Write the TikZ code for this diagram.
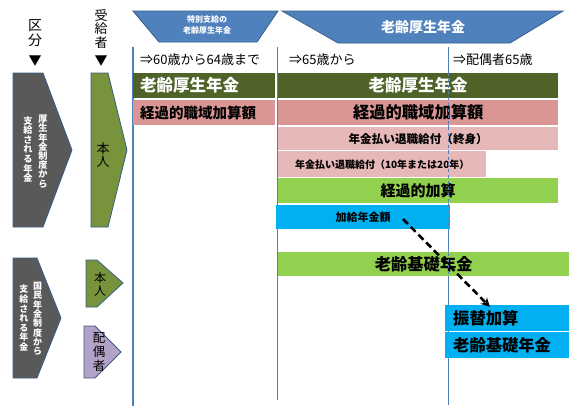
\documentclass[tikz,border=0pt]{standalone}
\usepackage{fontspec}
\setmainfont{Noto Sans CJK JP}
\usetikzlibrary{arrows.meta}
\definecolor{cOlive}{HTML}{4F6228}
\definecolor{cPink}{HTML}{D99694}
\definecolor{cLPink}{HTML}{E6B9B8}
\definecolor{cLGreen}{HTML}{92D050}
\definecolor{cCyan}{HTML}{00B0F0}
\definecolor{cBlue}{HTML}{4F81BD}
\definecolor{cBorder}{HTML}{385D8A}
\definecolor{cGray}{HTML}{595959}
\definecolor{cGreen}{HTML}{77933C}
\definecolor{cPurple}{HTML}{B3A2C7}
\newcommand{\fs}[2]{\fontsize{#1pt}{#2pt}\selectfont}
\begin{document}
\begin{tikzpicture}[x=1pt,y=-1pt,
  bar/.style={inner xsep=0pt, inner ysep=0pt, anchor=north west, font=\bfseries},
  lbar/.style={bar, inner xsep=7pt, align=left},
  banner/.style={fill=cBlue, draw=cBorder, line width=0.8pt},
  tab/.style={draw=cBorder, line width=0.8pt},
  vline/.style={draw=cBlue},
  hdr/.style={anchor=west, inner sep=0pt, font=\fs{13}{14}},
  vtext/.style={inner sep=0pt, align=center},
  darrow/.style={line width=2.6pt, dash pattern=on 7pt off 4pt, -{Stealth[length=9pt,width=9pt]}}
]
\useasboundingbox (0,0) rectangle (583,416);
\fill[white] (0,0) rectangle (583,416);

% banners
\path[banner] (133,11) -- (278,11) -- (257,42) -- (159,42) -- cycle;
\node[vtext, text=white, font=\bfseries\fs{8}{11}] (b1) at (207,25) {特別支給の\\老齢厚生年金};
\path[banner] (282,11) -- (563,11) -- (510,43) -- (338,43) -- cycle;
\node[vtext, text=white, font=\bfseries\fs{14}{16}] (b2) at (423,27) {老齢厚生年金};

% left headings
\node[vtext, font=\fs{14}{15}] (kubun) at (35,33) {区\\分};
\node[vtext, font=\fs{13}{13}] (kubunt) at (35,61) {▼};
\node[vtext, font=\fs{13}{13.5}] (jukyu) at (101,29) {受\\給\\者};
\node[vtext, font=\fs{13}{13}] (jukyut) at (101,61) {▼};

% vertical lines
\draw[vline, line width=1.8pt] (133,47) -- (133,406);
\draw[vline, line width=1pt] (277,47) -- (277,400);
\draw[vline, line width=1pt] (448,47) -- (448,405);

% column headers
\node[hdr] (h1) at (140,60) {⇒60歳から64歳まで};
\node[hdr] (h2) at (289,60) {⇒65歳から};
\node[hdr] (h3) at (453,60) {⇒配偶者65歳};

% bars
\node[lbar, fill=cOlive, text=white, text width=128pt, minimum height=25pt, font=\bfseries\fs{16.5}{18}] (r1a) at (133,73) {老齢厚生年金};
\node[bar, fill=cOlive, text=white, minimum width=280pt, minimum height=25pt, font=\bfseries\fs{16.5}{18}] (r1b) at (278,73) {老齢厚生年金};
\node[lbar, fill=cPink, text width=128pt, minimum height=25pt, font=\bfseries\fs{14.5}{16}] (r2a) at (133,100) {経過的職域加算額};
\node[bar, fill=cPink, minimum width=280pt, minimum height=25pt, font=\bfseries\fs{16.3}{18}] (r2b) at (278,100) {経過的職域加算額};
\node[bar, fill=cLPink, minimum width=280pt, minimum height=23pt, font=\bfseries\fs{11.6}{13}] (r3) at (278,127) {年金払い退職給付（終身）};
\node[bar, fill=cLPink, minimum width=208pt, minimum height=26pt, font=\bfseries\fs{10}{12}] (r4) at (278,151) {年金払い退職給付（10年または20年）};
\node[bar, fill=cLGreen, minimum width=280pt, minimum height=25pt, font=\bfseries\fs{15}{17}] (r5) at (278,178) {経過的加算};
\node[bar, fill=cCyan, minimum width=174pt, minimum height=24pt, font=\bfseries\fs{11}{13}] (r6) at (276,205) {加給年金額};
\node[bar, fill=cLGreen, minimum width=291pt, minimum height=24pt, font=\bfseries\fs{16.3}{18}] (r7) at (278,252) {老齢基礎年金};
\node[lbar, fill=cCyan, inner xsep=8pt, text width=108pt, minimum height=26pt, font=\bfseries\fs{16.3}{18}] (r8) at (445,305) {振替加算};
\node[lbar, fill=cCyan, inner xsep=8pt, text width=108pt, minimum height=26pt, font=\bfseries\fs{16.3}{18}] (r9) at (445,332) {老齢基礎年金};

% dashed overlay on line 3
\draw[vline, line width=1pt, dashed] (448,73) -- (448,276);

% arrow
\coordinate (as) at (403,219);
\coordinate (ae) at (490,307);
\draw[darrow] (as) -- (ae);

% left shapes
\path[fill=cGray, tab] (13,73) -- (43,73) -- (72,150) -- (43,227) -- (13,227) -- cycle;
\node[vtext, anchor=north, text=white, font=\bfseries\fs{9.2}{9.2}] (g1r) at (43,115) {厚\\生\\年\\金\\制\\度\\か\\ら};
\node[vtext, anchor=north, text=white, font=\bfseries\fs{9.2}{9.6}] (g1l) at (28,116) {支\\給\\さ\\れ\\る\\年\\金};
\path[fill=cGreen, tab] (91,73) -- (108,73) -- (127,150) -- (108,227) -- (91,227) -- cycle;
\node[vtext, font=\fs{13}{13}] (p1) at (103,155) {本\\人};

\path[fill=cGray, tab] (13,258) -- (37,258) -- (61,318) -- (37,378) -- (13,378) -- cycle;
\node[vtext, anchor=north, text=white, font=\bfseries\fs{9}{9.3}] (g2r) at (37.5,282) {国\\民\\年\\金\\制\\度\\か\\ら};
\node[vtext, anchor=north, text=white, font=\bfseries\fs{9}{9.6}] (g2l) at (24,285) {支\\給\\さ\\れ\\る\\年\\金};
\path[fill=cGreen, tab] (86,260) -- (97,260) -- (123,283) -- (97,307) -- (86,307) -- cycle;
\node[vtext, font=\fs{12}{13}] (p2) at (100,284) {本\\人};
\path[fill=cPurple, tab] (84,326) -- (95,326) -- (121,352) -- (95,378) -- (84,378) -- cycle;
\node[vtext, font=\fs{12.5}{14}] (sp) at (99,352) {配\\偶\\者};
\end{tikzpicture}
\end{document}
